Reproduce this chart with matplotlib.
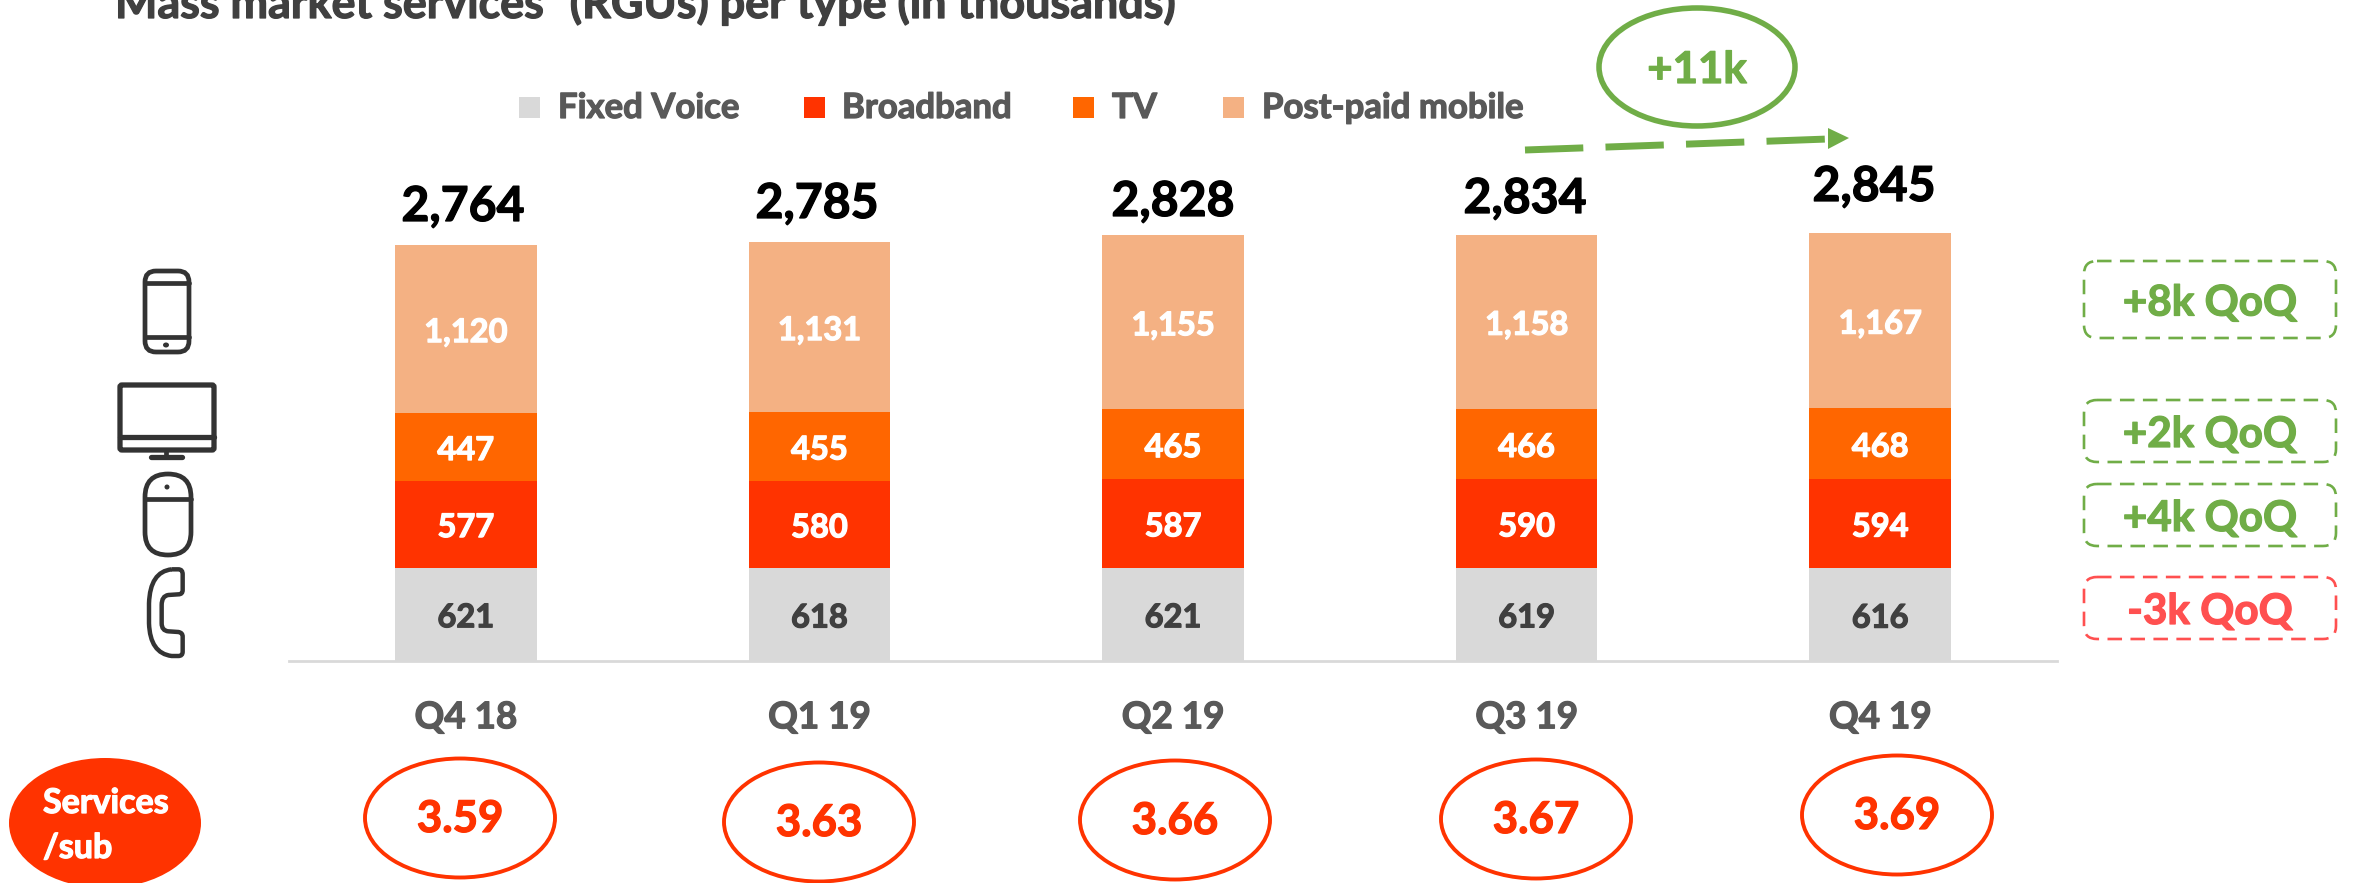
import matplotlib
matplotlib.use('Agg')
import matplotlib.pyplot as plt
import matplotlib.patheffects as pe
from matplotlib.patches import Ellipse, FancyBboxPatch, Polygon, PathPatch, Rectangle
from matplotlib.path import Path
from matplotlib.text import Text

plt.rcParams['font.family'] = ['Lato', 'DejaVu Sans']
plt.rcParams['font.weight'] = 'bold'

quarters = ['Q4 18', 'Q1 19', 'Q2 19', 'Q3 19', 'Q4 19']
fixed_voice = [621, 618, 621, 619, 616]
broadband = [577, 580, 587, 590, 594]
tv = [447, 455, 465, 466, 468]
postpaid = [1120, 1131, 1155, 1158, 1167]
totals = ['2,764', '2,785', '2,828', '2,834', '2,845']
services_sub = ['3.59', '3.63', '3.66', '3.67', '3.69']
series_names = ['Fixed Voice', 'Broadband', 'TV', 'Post-paid mobile']
qoq_labels = ['+8k QoQ', '+2k QoQ', '+4k QoQ', '-3k QoQ']

GREY = '#D9D9D9'
RED = '#FF3300'
ORANGE = '#FF6600'
PEACH = '#F4B183'
TEXT = '#595959'
GREEN = '#70AD47'
PINK = '#FF5050'
ICON = '#333333'

W, H = 2356, 883
fig = plt.figure(figsize=(W / 100, H / 100), dpi=100)

# bar axes, baseline sits at y=661px
bar_ax = fig.add_axes([289 / W, (H - 661) / H, (2057 - 289) / W, 511.7 / H])
# overlay in pixel coordinates for the slide furniture
ax = fig.add_axes([0, 0, 1, 1], facecolor='none')
ax.set_xlim(0, W)
ax.set_ylim(H, 0)
ax.axis('off')

series = [fixed_voice, broadband, tv, postpaid]
colors = [GREY, RED, ORANGE, PEACH]
label_colors = ['#404040', 'white', 'white', 'white']
x = list(range(len(quarters)))
bottom = [0] * len(quarters)
for name, vals, c, lc in zip(series_names, series, colors, label_colors):
    bars = bar_ax.bar(x, vals, 0.40, bottom=bottom, color=c, label=name)
    bar_ax.bar_label(bars, fmt='{:,.0f}', label_type='center', padding=-2.5, color=lc,
                     fontsize=23.5, fontweight='bold')
    bottom = [b + v for b, v in zip(bottom, vals)]

bar_ax.set_xlim(-0.5, 4.5)
bar_ax.set_ylim(0, 3400)
bar_ax.set_yticks([])
bar_ax.set_xticks(x)
bar_ax.set_xticklabels(quarters, fontsize=26.5, color=TEXT, fontweight='bold')
bar_ax.tick_params(axis='x', length=0, pad=29)
for s in ['top', 'left', 'right']:
    bar_ax.spines[s].set_visible(False)
bar_ax.spines['bottom'].set_color(GREY)
bar_ax.spines['bottom'].set_linewidth(2)

# title, cut by the top edge like the source slide
ax.text(115, 18, 'Mass market services\u00b9 (RGUs) per type (in thousands)', fontsize=32.3,
        color='#404040', va='baseline', ha='left', clip_on=False)

# legend by hand, spacing is uneven
legend_x = [519, 804, 1073, 1223]
text_x = [558, 842, 1112, 1262]
for name, c, lx, tx in zip(series_names, colors, legend_x, text_x):
    ax.add_patch(Rectangle((lx, 97), 21, 21, color=c, lw=0))
    ax.text(tx, 108, name, fontsize=25, color=TEXT, va='center', ha='left')

# totals above bars
total_x = [463, 817, 1173, 1525, 1874]
total_y = [207, 204, 202, 199, 187]
for s, tx, ty in zip(totals, total_x, total_y):
    ax.text(tx, ty, s, fontsize=34.7, color='black', ha='center', va='center')

# +11k arrow
ax.plot([1525, 1828], [150, 139], color=GREEN, lw=5, dashes=(8.4, 3.2), dash_capstyle='butt')
ax.add_patch(Polygon([(1828, 128), (1849, 138), (1828, 149)], color=GREEN, lw=0))
ax.add_patch(Ellipse((1697, 67), 196, 118, fill=False, ec=GREEN, lw=4))
ax.text(1697, 70, '+11k', fontsize=31.5, color=GREEN, ha='center', va='center')

# QoQ boxes on the right
box_y = [(261, 338), (400, 462), (484, 546), (577, 639)]
box_c = [GREEN, GREEN, GREEN, PINK]
for s, (y0, y1), c in zip(qoq_labels, box_y, box_c):
    ax.add_patch(FancyBboxPatch((2084, y0), 252, y1 - y0, boxstyle='round,pad=0,rounding_size=13',
                                fill=False, ec=c, lw=1.9, linestyle=(0, (5.5, 3.2))))
    ax.text(2210, (y0 + y1) / 2 + 4, s, fontsize=30.4, color=c, ha='center', va='center')

# services per sub row
ax.add_patch(Ellipse((105, 823), 192, 130, color=RED, lw=0))
ax.text(43, 803, 'Services', fontsize=24.5, color='white', ha='left', va='center')
ax.text(43, 848, '/sub', fontsize=24.5, color='white', ha='left', va='center')
oval_x = [460, 819, 1175, 1536, 1897]
oval_y = [818, 822, 820, 819, 815]
for s, ox, oy in zip(services_sub, oval_x, oval_y):
    ax.add_patch(Ellipse((ox, oy), 190, 119, fill=False, ec=RED, lw=2.8))
    ax.text(ox, oy + 1, s, fontsize=31.5, color=RED, ha='center', va='center')

# icons
def rbox(x0, y0, w, h, r, lw=3.4):
    ax.add_patch(FancyBboxPatch((x0, y0), w, h, boxstyle='round,pad=0,rounding_size=%s' % r,
                                fill=False, ec=ICON, lw=lw))

def seg(xs, ys, lw=3.4):
    ax.plot(xs, ys, color=ICON, lw=lw, solid_capstyle='round')

# phone
rbox(145, 271, 44, 81, 11)
seg([145, 189], [283, 283])
seg([145, 189], [337, 337])
ax.add_patch(Ellipse((166, 345), 6, 5, color=ICON, lw=0))
# monitor
rbox(120, 385, 94, 65, 2, lw=3.8)
seg([120, 214], [437, 437], lw=3.8)
seg([166, 166], [450, 457])
seg([151, 182], [457, 457], lw=3.8)
# mouse
rbox(145, 474, 46, 81, 23)
seg([145, 191], [499, 499])
ax.add_patch(Ellipse((167, 487), 5, 5, color=ICON, lw=0))
# handset
z = [(215, 988), (235, 988), (248, 988), (248, 1003), (248, 1050), (248, 1063), (235, 1063),
     (205, 1065), (185, 1068), (185, 1095), (185, 1150), (185, 1172), (205, 1174),
     (235, 1176), (248, 1178), (248, 1190), (248, 1235), (248, 1248), (235, 1248),
     (215, 1248), (150, 1240), (147, 1150), (147, 1090), (150, 995), (215, 988)]
codes = [Path.MOVETO, Path.LINETO, Path.CURVE3, Path.CURVE3, Path.LINETO, Path.CURVE3, Path.CURVE3,
         Path.LINETO, Path.CURVE3, Path.CURVE3, Path.LINETO, Path.CURVE3, Path.CURVE3,
         Path.LINETO, Path.CURVE3, Path.CURVE3, Path.LINETO, Path.CURVE3, Path.CURVE3,
         Path.LINETO, Path.CURVE3, Path.CURVE3, Path.LINETO, Path.CURVE3, Path.CURVE3]
pts = [(a / 3 + 100, b / 3 + 240) for a, b in z]
ax.add_patch(PathPatch(Path(pts, codes), fill=False, ec=ICON, lw=3.2))

# the source font is heavier than Lato Bold
for t in fig.findobj(Text):
    t.set_path_effects([pe.withStroke(linewidth=0.9, foreground=t.get_color())])

fig.savefig('out.png', dpi=100)
